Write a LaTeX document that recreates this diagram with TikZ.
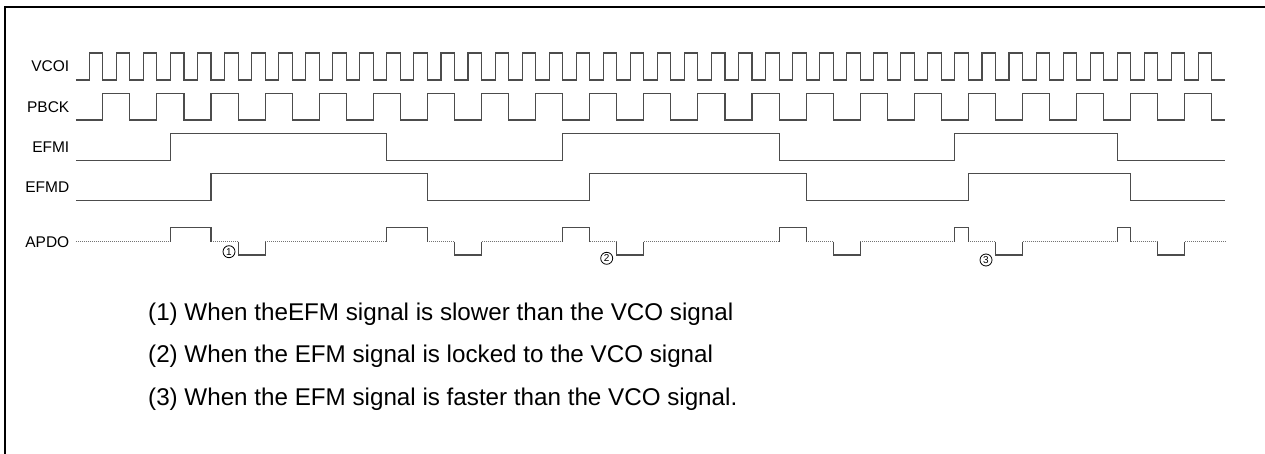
\documentclass[tikz,border=0pt]{standalone}
\usepackage{fontspec}
\setmainfont{Liberation Sans}
\usepackage{tikz}

\tikzset{
  wave/.style={line width=1.1pt, black!70},
  idle/.style={line width=0.8pt, black!55, dash pattern=on 1pt off 1pt},
  signame/.style={anchor=east, inner sep=0pt, font=\fontsize{15.5}{18}\selectfont},
  casenum/.style={circle, draw, line width=0.8pt, inner sep=0pt, minimum size=12pt,
    font=\fontsize{10}{10}\selectfont},
  caption/.style={anchor=base west, inner sep=0pt, font=\fontsize{24.2}{28}\selectfont}
}

\begin{document}
\begin{tikzpicture}[x=1pt,y=-1pt]
  \useasboundingbox (0,0) rectangle (1265,454);
  \draw[line width=2.2pt] (5,454) -- (5,7) -- (1265,7);

  % signal names
  \node[signame] (vcoi) at (69.5,66.5) {VCOI};
  \node[signame] (pbck) at (69.5,106.7) {PBCK};
  \node[signame] (efmi) at (69.5,147) {EFMI};
  \node[signame] (efmd) at (69.5,187.5) {EFMD};
  \node[signame] (apdo) at (69.5,241.7) {APDO};

  % one unit = half a VCOI period
  \begin{scope}[xshift=89.3pt, x=13.525pt]
    \draw[wave] (-1,80) foreach \k in {0,...,41} {
      -- (2*\k,80) -- (2*\k,53) -- (2*\k+1,53) -- (2*\k+1,80) } -- (84,80);
    \draw[wave] (-1,120) foreach \m in {0,...,20} {
      -- (4*\m+1,120) -- (4*\m+1,93.3) -- (4*\m+3,93.3) -- (4*\m+3,120) } -- (84,120);
    \draw[wave] (-1,160.5) foreach \a/\b in {6/22,35/51,64/76} {
      -- (\a,160.5) -- (\a,133.3) -- (\b,133.3) -- (\b,160.5) } -- (84,160.5);
    \draw[wave] (-1,200.5) foreach \a/\b in {9/25,37/53,65/77} {
      -- (\a,200.5) -- (\a,173.8) -- (\b,173.8) -- (\b,200.5) } -- (84,200.5);

    % APDO
    \foreach \a/\b in {-1/6,9/11,13/22,25/27,29/35,37/39,41/51,53/55,57/64,65/67,69/76,77/79,81/84}
      \draw[idle] (\a,241.7) -- (\b,241.7);
    \foreach \a/\b in {6/9,22/25,35/37,51/53,64/65,76/77}
      \draw[wave] (\a,241.7) -- (\a,227.7) -- (\b,227.7) -- (\b,241.7);
    \foreach \a/\b in {11/13,27/29,39/41,55/57,67/69,79/81}
      \draw[wave] (\a,241.7) -- (\a,255) -- (\b,255) -- (\b,241.7);
  \end{scope}

  \node[casenum] (slow) at (229,251.7) {1};
  \node[casenum] (lock) at (606.7,258.3) {2};
  \node[casenum] (fast) at (986,260) {3};

  \node[caption] (cap1) at (148,320.7) {(1) When theEFM signal is slower than the VCO signal};
  \node[caption] (cap2) at (148,362.7) {(2) When the EFM signal is locked to the VCO signal};
  \node[caption] (cap3) at (148,405.7) {(3) When the EFM signal is faster than the VCO signal.};
\end{tikzpicture}
\end{document}
